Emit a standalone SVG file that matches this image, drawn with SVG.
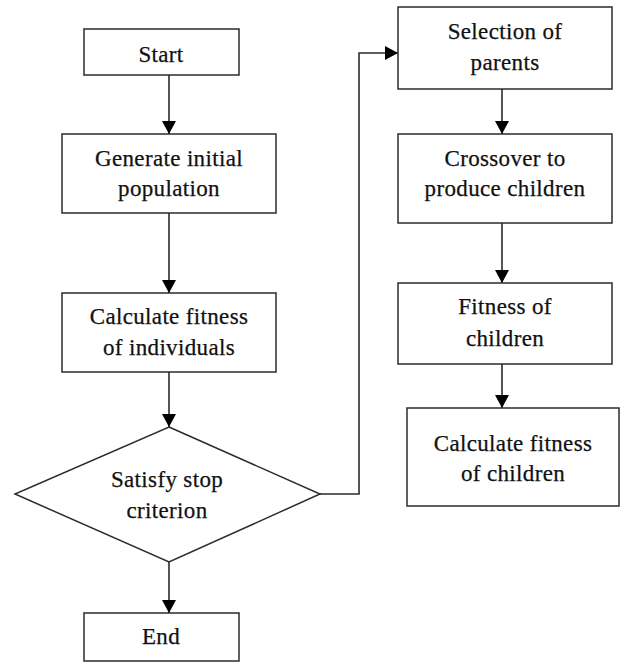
<svg xmlns="http://www.w3.org/2000/svg" width="621" height="662" viewBox="0 0 621 662">
<defs>
<marker id="arr" markerWidth="14" markerHeight="14" refX="13" refY="7" orient="auto" markerUnits="userSpaceOnUse">
<path d="M0,0 L13,7 L0,14 Z" fill="#000"/>
</marker>
<style>
.box{fill:#fff;stroke:#2b2b2b;stroke-width:1.5}
.lbl{font-family:"Liberation Serif","Times New Roman",serif;font-size:23px;letter-spacing:0.35px;fill:#111;stroke:#111;stroke-width:0.25;text-anchor:middle}
.con{fill:none;stroke:#2b2b2b;stroke-width:1.6}
</style>
</defs>
<rect width="621" height="662" fill="#fff"/>
<g id="connectors">
<line class="con" x1="169" y1="75" x2="169" y2="134" marker-end="url(#arr)"/>
<line class="con" x1="169" y1="213" x2="169" y2="293" marker-end="url(#arr)"/>
<line class="con" x1="169" y1="372" x2="169" y2="427" marker-end="url(#arr)"/>
<line class="con" x1="169" y1="562" x2="169" y2="613" marker-end="url(#arr)"/>
<polyline class="con" points="320,494 359,494 359,53 398,53" marker-end="url(#arr)"/>
<line class="con" x1="502" y1="89" x2="502" y2="134" marker-end="url(#arr)"/>
<line class="con" x1="502" y1="223" x2="502" y2="283" marker-end="url(#arr)"/>
<line class="con" x1="502" y1="364" x2="502" y2="408" marker-end="url(#arr)"/>
</g>
<g id="start">
<rect class="box" x="84" y="29" width="155" height="46"/>
<text class="lbl" x="161" y="62">Start</text>
</g>
<g id="generate">
<rect class="box" x="62" y="134" width="214" height="79"/>
<text class="lbl" x="169" y="166">Generate initial</text>
<text class="lbl" x="169" y="196">population</text>
</g>
<g id="calc-individuals">
<rect class="box" x="62" y="293" width="214" height="79"/>
<text class="lbl" x="169" y="324">Calculate fitness</text>
<text class="lbl" x="169" y="355">of individuals</text>
</g>
<g id="decision">
<polygon class="box" points="169,427 320,494 169,562 15,494"/>
<text class="lbl" x="167" y="487">Satisfy stop</text>
<text class="lbl" x="167" y="518">criterion</text>
</g>
<g id="end">
<rect class="box" x="84" y="613" width="155" height="48"/>
<text class="lbl" x="161" y="644">End</text>
</g>
<g id="selection">
<rect class="box" x="398" y="7" width="214" height="82"/>
<text class="lbl" x="505" y="39">Selection of</text>
<text class="lbl" x="505" y="70">parents</text>
</g>
<g id="crossover">
<rect class="box" x="398" y="134" width="214" height="89"/>
<text class="lbl" x="505" y="166">Crossover to</text>
<text class="lbl" x="505" y="196">produce children</text>
</g>
<g id="fitness-children">
<rect class="box" x="398" y="283" width="214" height="81"/>
<text class="lbl" x="505" y="314">Fitness of</text>
<text class="lbl" x="505" y="346">children</text>
</g>
<g id="calc-children">
<rect class="box" x="407" y="408" width="212" height="98"/>
<text class="lbl" x="513" y="451">Calculate fitness</text>
<text class="lbl" x="513" y="481">of children</text>
</g>
</svg>
